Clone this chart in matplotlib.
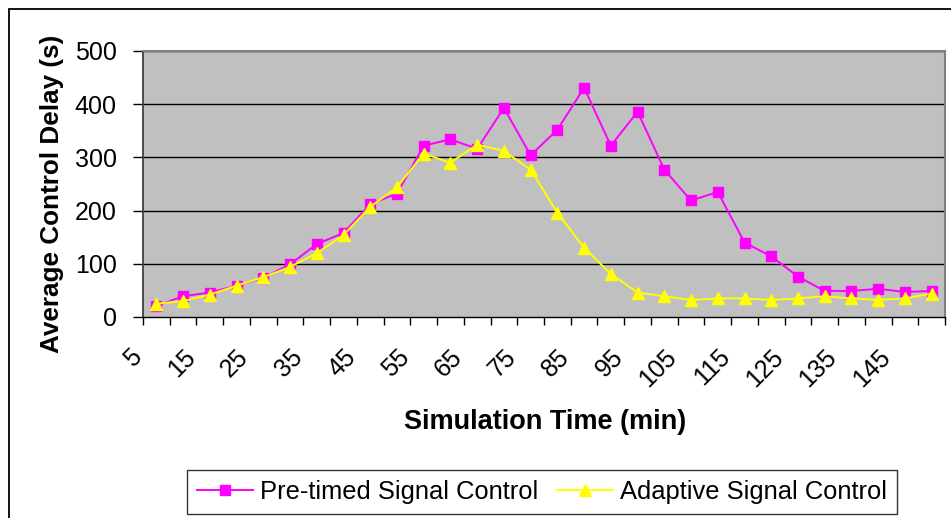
import matplotlib
matplotlib.use("Agg")
import matplotlib.pyplot as plt
from matplotlib.patches import Rectangle
from matplotlib.transforms import ScaledTranslation

plt.rcParams["font.family"] = ["Liberation Sans", "DejaVu Sans"]

# Simulation time (min), one category per 5 minutes
times = [5, 10, 15, 20, 25, 30, 35, 40, 45, 50, 55, 60, 65, 70, 75,
         80, 85, 90, 95, 100, 105, 110, 115, 120, 125, 130, 135, 140, 145, 150]

# Average control delay (s)
pretimed = [21, 39, 46, 59, 74, 99, 137, 158, 212, 232, 322, 334, 316, 393, 304,
            352, 431, 322, 386, 277, 219, 235, 140, 114, 76, 49, 49, 53, 47, 49]
adaptive = [25, 30, 42, 59, 75, 94, 120, 154, 207, 244, 307, 290, 324, 312, 277,
            196, 130, 81, 46, 39, 32, 35, 35, 32, 35, 39, 35, 32, 35, 44]

yticks = [0, 100, 200, 300, 400, 500]

fig = plt.figure(figsize=(9.51, 5.18), dpi=100)
ax = fig.add_axes([143 / 951, 1 - 317 / 518, (945 - 143) / 951, (317 - 51) / 518])

# chart area frame
fig.patches.append(Rectangle((9 / 951, -0.1), 1.0, 1.1 - 9 / 518, transform=fig.transFigure,
                             fill=False, edgecolor="black", linewidth=1.3))

ax.set_facecolor("#C0C0C0")
idx = list(range(len(times)))

for y in yticks[1:]:
    ax.axhline(y, color="black", linewidth=1.0, zorder=1)

ax.plot(idx, pretimed, color="#FF00FF", marker="s", markersize=7, linewidth=1.4,
        label="Pre-timed Signal Control", zorder=3)
ax.plot(idx, adaptive, color="#FFFF00", marker="^", markersize=9, linewidth=1.4,
        label="Adaptive Signal Control", zorder=4)

ax.set_xlim(-0.5, len(times) - 0.5)
ax.set_ylim(0, 500)

ax.set_xticks(idx[::2])
ax.set_xticklabels([str(t) for t in times[::2]], rotation=45, ha="right", va="top", fontsize=18)
ax.set_xticks([i - 0.5 for i in range(len(times) + 1)], minor=True)
ax.tick_params(axis="x", which="major", length=0, pad=20)
ax.tick_params(axis="x", which="minor", length=6, width=1, direction="out", color="black")
for lab in ax.get_xticklabels():
    lab.set_transform(lab.get_transform() + ScaledTranslation(-0.10, 0, fig.dpi_scale_trans))

ax.set_yticks(yticks)
ax.set_yticklabels([str(y) for y in yticks], fontsize=18)
ax.tick_params(axis="y", length=7, width=1, direction="out", color="black", pad=12)

for side in ["top", "right"]:
    ax.spines[side].set_color("#808080")
    ax.spines[side].set_linewidth(1.5)
ax.spines["left"].set_color("#404040")
ax.spines["left"].set_linewidth(1.3)
ax.spines["bottom"].set_color("black")
ax.spines["bottom"].set_linewidth(1.0)

fig.text(545 / 951, 1 - 422 / 518, "Simulation Time (min)", ha="center", va="center",
         fontsize=19.5, fontweight="bold")
fig.text(52 / 951, 1 - 194 / 518, "Average Control Delay (s)", ha="center", va="center",
         rotation=90, fontsize=18.8, fontweight="bold")

leg = fig.legend(loc="center", bbox_to_anchor=((191 + 893) / 2 / 951, 1 - 492 / 518),
                 ncol=2, fontsize=18.4, frameon=True, fancybox=False,
                 edgecolor="black", handlelength=2.2, handletextpad=0.25, columnspacing=0.75,
                 borderpad=0.4, borderaxespad=0)
leg.get_frame().set_linewidth(1.0)

fig.savefig("out.png", dpi=100)
